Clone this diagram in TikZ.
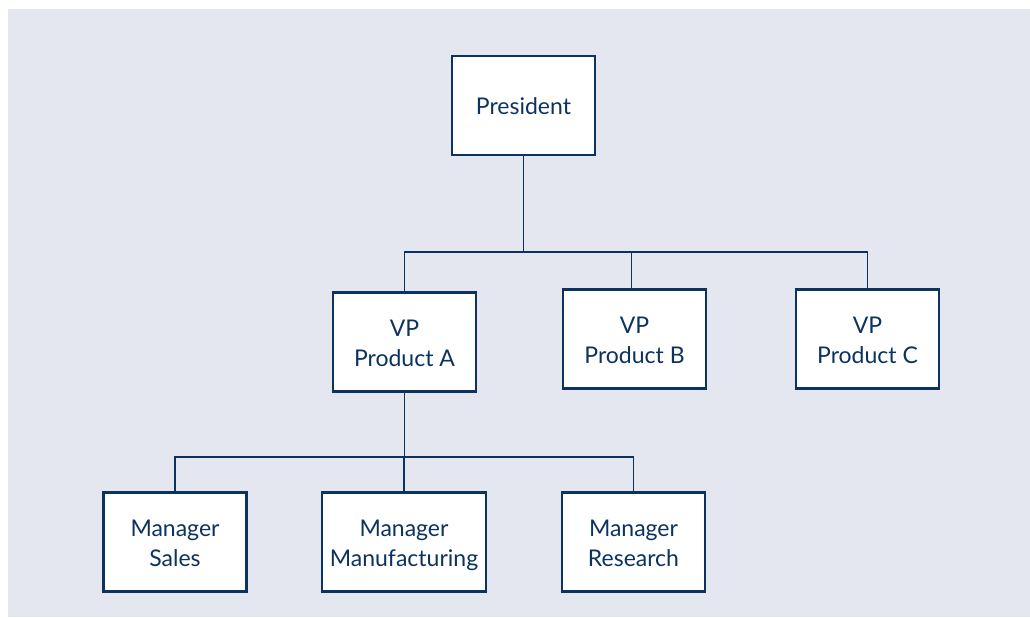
\documentclass[tikz,border=0pt]{standalone}
\usepackage{fontspec}
\setmainfont{Lato}
\definecolor{bg}{HTML}{E4E7F0}
\definecolor{navy}{HTML}{0C3360}
\newcommand\ostrut{\rule[-3pt]{0pt}{15pt}}
\begin{document}
\begin{tikzpicture}[x=0.5pt,y=-0.5pt,
  orgbox/.style={draw=navy, line width=1.1pt, fill=white, text=navy, align=center,
    minimum width=71.5pt, minimum height=49.5pt, inner sep=0pt,
    font=\fontsize{11.5pt}{15pt}\selectfont},
  link/.style={draw=navy, line width=0.6pt}]
\useasboundingbox (0,0) rectangle (1030,617);
\fill[bg] (8,9) rectangle (1030,617);
\node[orgbox] (pres) at (523.5,105.5) {President\ostrut};
\node[orgbox] (vpa) at (404.5,342) {VP\ostrut\\Product A\ostrut};
\node[orgbox] (vpb) at (634.5,339) {VP\ostrut\\Product B\ostrut};
\node[orgbox] (vpc) at (867.5,339) {VP\ostrut\\Product C\ostrut};
\node[orgbox] (sales) at (175,542) {Manager\ostrut\\Sales\ostrut};
\node[orgbox, minimum width=82pt] (manu) at (404,542) {Manager\ostrut\\Manufacturing\ostrut};
\node[orgbox] (res) at (633.5,542) {Manager\ostrut\\Research\ostrut};
\coordinate (bus1) at (524,252);
\coordinate (bus2) at (404,457);
\draw[link] (pres.south) -- (pres.south |- bus1);
\draw[link] (vpa.north) |- (vpc.north |- bus1) -- (vpc.north);
\draw[link] ([xshift=-1.4pt]vpb.north) -- ([xshift=-1.4pt]vpb.north |- bus1);
\draw[link] (vpa.south) -- (vpa.south |- bus2);
\draw[link] (sales.north) |- (res.north |- bus2) -- (res.north);
\draw[link] (manu.north) -- (manu.north |- bus2);
\end{tikzpicture}
\end{document}
